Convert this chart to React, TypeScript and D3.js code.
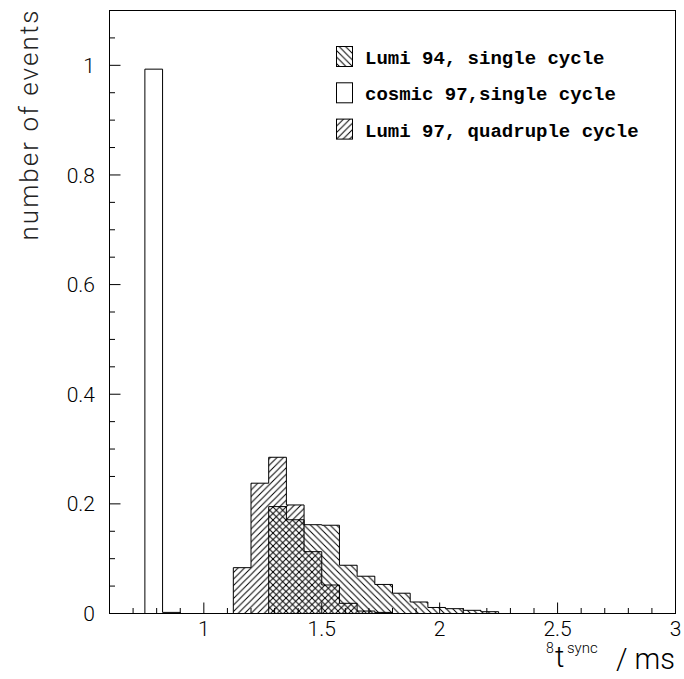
import React from "react";
import * as d3 from "d3";

// ---- data ----
const binWidth = 0.075;
const cosmicStart = 0.75;
const cosmicValues = [0.993, 0.002];
const lumi94Start = 1.275;
const lumi94Values = [0.195, 0.171, 0.162, 0.161, 0.088, 0.068, 0.053, 0.037, 0.021, 0.011, 0.0088, 0.0058, 0.0033];
const lumi97Start = 1.125;
const lumi97Values = [0.0836, 0.2377, 0.285, 0.198, 0.1128, 0.052, 0.0186, 0.0045, 0.002];

const xMajorTicks = [1, 1.5, 2, 2.5, 3];
const xTickLabels = ["1", "1.5", "2", "2.5", "3"];
const yMajorTicks = [0, 0.2, 0.4, 0.6, 0.8, 1];
const yTickLabels = ["0", "0.2", "0.4", "0.6", "0.8", "1"];
const legendLabels = ["Lumi 94, single cycle", "cosmic 97,single cycle", "Lumi 97, quadruple cycle"];
const legendFills = ["url(#hatchBack)", "none", "url(#hatchFwd)"];

const W = 684;
const H = 679;
const frame = { left: 109.5, right: 675.5, top: 10.5, bottom: 613.5 };

const x = d3.scaleLinear().domain([0.6, 3]).range([frame.left, frame.right]);
const y = d3.scaleLinear().domain([0, 1.1]).range([frame.bottom, frame.top]);

function histPath(start: number, values: number[]): string {
  const p = d3.path();
  p.moveTo(x(start), y(0));
  values.forEach((v, i) => {
    const x0 = x(start + i * binWidth);
    const x1 = x(start + (i + 1) * binWidth);
    p.lineTo(x0, y(v));
    p.lineTo(x1, y(v));
  });
  p.lineTo(x(start + values.length * binWidth), y(0));
  p.closePath();
  return p.toString();
}

const xMinor = d3.range(7, 30).map((d) => d / 10).filter((d) => Math.abs(d * 2 - Math.round(d * 2)) > 1e-6);
const yMinor = d3.range(1, 23).map((d) => d / 20).filter((d) => Math.abs(d * 5 - Math.round(d * 5)) > 1e-6);

const S = 6.5;
const font = "Roboto, 'Liberation Sans', sans-serif";

export default function App() {
  return (
    <svg width={W} height={H} style={{ position: "absolute", left: 0, top: 0, background: "#fff" }}>
      <defs>
        <pattern id="hatchFwd" patternUnits="userSpaceOnUse" width={S} height={S}>
          <path
            d={`M0,${S} L${S},0 M${-S / 2},${S / 2} L${S / 2},${-S / 2} M${S / 2},${S * 1.5} L${S * 1.5},${S / 2}`}
            stroke="#000"
            strokeWidth={1}
          />
        </pattern>
        <pattern id="hatchBack" patternUnits="userSpaceOnUse" width={S} height={S}>
          <path
            d={`M0,0 L${S},${S} M${-S / 2},${S / 2} L${S / 2},${S * 1.5} M${S / 2},${-S / 2} L${S * 1.5},${S / 2}`}
            stroke="#000"
            strokeWidth={1}
          />
        </pattern>
      </defs>
      <rect x={0} y={0} width={W} height={H} fill="#fff" />

      {/* histograms */}
      <path d={histPath(lumi94Start, lumi94Values)} fill="url(#hatchBack)" stroke="#000" strokeWidth={1} />
      <path d={histPath(lumi97Start, lumi97Values)} fill="url(#hatchFwd)" stroke="#000" strokeWidth={1} />
      <path d={histPath(cosmicStart, cosmicValues)} fill="none" stroke="#000" strokeWidth={1} />

      {/* frame */}
      <rect
        x={frame.left}
        y={frame.top}
        width={frame.right - frame.left}
        height={frame.bottom - frame.top}
        fill="none"
        stroke="#000"
        strokeWidth={1}
      />

      {/* x ticks */}
      {xMajorTicks.map((t) => (
        <line key={"xM" + t} x1={x(t)} x2={x(t)} y1={frame.bottom} y2={frame.bottom - 11} stroke="#000" />
      ))}
      {xMinor.map((t) => (
        <line key={"xm" + t} x1={x(t)} x2={x(t)} y1={frame.bottom} y2={frame.bottom - 5.5} stroke="#000" />
      ))}
      {xMajorTicks.map((t, i) => (
        <text
          key={"xl" + t}
          x={x(t)}
          y={636}
          textAnchor="middle"
          fontFamily={font}
          fontWeight={300}
          fontSize={21}
        >
          {xTickLabels[i]}
        </text>
      ))}

      {/* y ticks */}
      {yMajorTicks.map((t) => (
        <line key={"yM" + t} x1={frame.left} x2={frame.left + 11} y1={y(t)} y2={y(t)} stroke="#000" />
      ))}
      {yMinor.map((t) => (
        <line key={"ym" + t} x1={frame.left} x2={frame.left + 5.5} y1={y(t)} y2={y(t)} stroke="#000" />
      ))}
      {yMajorTicks.map((t, i) => (
        <text
          key={"yl" + t}
          x={95}
          y={y(t)}
          dy="0.36em"
          textAnchor="end"
          fontFamily={font}
          fontWeight={300}
          fontSize={21}
        >
          {yTickLabels[i]}
        </text>
      ))}

      {/* axis titles */}
      <text
        transform={`translate(38,${frame.top}) rotate(-90)`}
        textAnchor="end"
        fontFamily={font}
        fontWeight={300}
        fontSize={26}
        textLength={230}
        lengthAdjust="spacing"
        fill="#222"
      >
        number of events
      </text>
      <text fontFamily={font} fontWeight={300} fontSize={29}>
        <tspan x={546} y={653} fontSize={14}>8</tspan>
        <tspan x={555} y={667}>t</tspan>
        <tspan x={567} y={653} fontSize={15}>sync</tspan>
        <tspan x={616} y={669}>/ ms</tspan>
      </text>

      {/* legend */}
      {legendLabels.map((lab, i) => (
        <g key={lab} transform={`translate(0,${i * 36.3})`}>
          <rect x={336.5} y={46.5} width={16} height={20} fill={legendFills[i]} stroke="#000" strokeWidth={1} />
          <text
            x={365}
            y={64}
            fontFamily="'Liberation Mono', 'Courier New', monospace"
            fontWeight="bold"
            fontSize={19}
          >
            {lab}
          </text>
        </g>
      ))}
    </svg>
  );
}
